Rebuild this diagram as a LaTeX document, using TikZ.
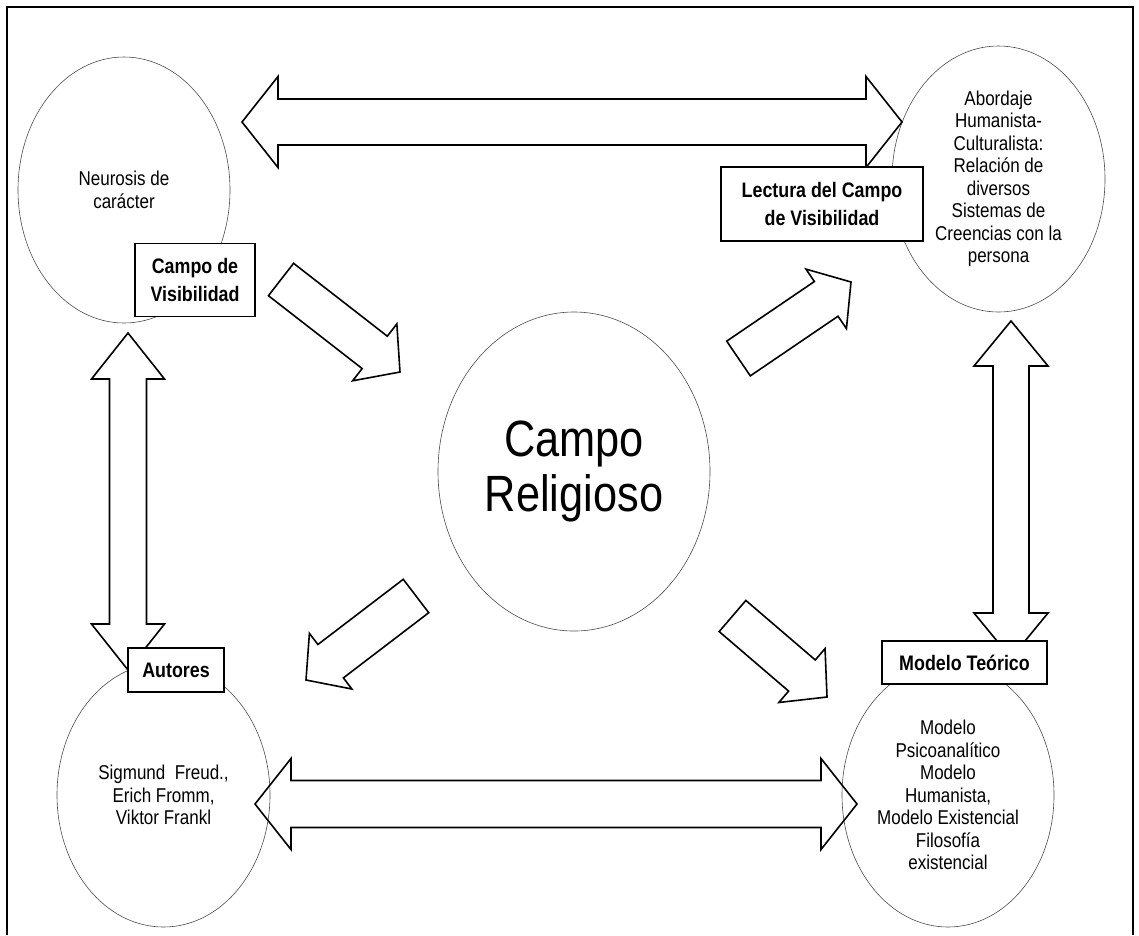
\documentclass[tikz,border=0pt]{standalone}
\usepackage{fontspec}
\setmainfont[FakeStretch=0.85]{Liberation Sans}
\usetikzlibrary{calc, shapes.geometric}

\begin{document}
\begin{tikzpicture}[x=1pt, y=-1pt,
    bubble/.style={draw=black!70, line width=0.6pt, ellipse, inner sep=0pt,
        minimum width=212pt, minimum height=266pt, align=center,
        font=\fontsize{20}{22.5}\selectfont},
    labelbox/.style={draw, line width=1.4pt, fill=white, align=center, inner sep=0pt,
        font=\bfseries\fontsize{21}{28}\selectfont},
    onearrow/.style n args={3}{line width=1.6pt, to path={
        ($(\tikztostart)!#1!90:(\tikztotarget)$)
        -- ($($(\tikztotarget)!#3!(\tikztostart)$)!#1!90:(\tikztotarget)$)
        -- ($($(\tikztotarget)!#3!(\tikztostart)$)!#2!90:(\tikztotarget)$)
        -- (\tikztotarget)
        -- ($($(\tikztotarget)!#3!(\tikztostart)$)!#2!-90:(\tikztotarget)$)
        -- ($($(\tikztotarget)!#3!(\tikztostart)$)!#1!-90:(\tikztotarget)$)
        -- ($(\tikztostart)!#1!-90:(\tikztotarget)$)
        -- cycle}},
    twoarrow/.style n args={3}{line width=1.6pt, to path={
        (\tikztostart)
        -- ($($(\tikztostart)!#3!(\tikztotarget)$)!#2!90:(\tikztotarget)$)
        -- ($($(\tikztostart)!#3!(\tikztotarget)$)!#1!90:(\tikztotarget)$)
        -- ($($(\tikztotarget)!#3!(\tikztostart)$)!#1!90:(\tikztotarget)$)
        -- ($($(\tikztotarget)!#3!(\tikztostart)$)!#2!90:(\tikztotarget)$)
        -- (\tikztotarget)
        -- ($($(\tikztotarget)!#3!(\tikztostart)$)!#2!-90:(\tikztotarget)$)
        -- ($($(\tikztotarget)!#3!(\tikztostart)$)!#1!-90:(\tikztotarget)$)
        -- ($($(\tikztostart)!#3!(\tikztotarget)$)!#1!-90:(\tikztotarget)$)
        -- ($($(\tikztostart)!#3!(\tikztotarget)$)!#2!-90:(\tikztotarget)$)
        -- cycle}}]
    \useasboundingbox (0,0) rectangle (1139,935);

    % Frame
    \draw[line width=1.6pt] (7,935) -- (7,7) -- (1133,7) -- (1133,935);

    % Circles
    \node[bubble] (neurosis) at (124,190) {Neurosis de\\carácter};
    \node[bubble, minimum width=213pt] (abordaje) at (998.5,179)
        {Abordaje\\Humanista-\\Culturalista:\\Relación de\\diversos\\Sistemas de\\Creencias con la\\persona};
    \node[bubble, minimum width=213pt, minimum height=264pt] (autores) at (163.5,795)
        {Sigmund~~Freud.,\\Erich Fromm,\\Viktor Frankl};
    \node[bubble, minimum height=264pt] (modelos) at (948,795)
        {Modelo\\Psicoanalítico\\Modelo\\Humanista,\\Modelo Existencial\\Filosofía\\existencial};
    \node[bubble, minimum width=272pt, minimum height=319pt,
        font=\fontsize{51}{55}\selectfont] (religioso) at (574,471.5) {Campo\\Religioso};

    % Arrow ends
    \coordinate (topL) at (242,122);   \coordinate (topR) at (902,122);
    \coordinate (botL) at (255,804);   \coordinate (botR) at (857,804);
    \coordinate (leftU) at (128,333);  \coordinate (leftD) at (128,670);
    \coordinate (rightU) at (1011,321); \coordinate (rightD) at (1011,658);
    \coordinate (inA) at (281,279.5);  \coordinate (inB) at (400,372);
    \coordinate (upA) at (738.5,358.5); \coordinate (upB) at (851,282);
    \coordinate (dlA) at (416,596);    \coordinate (dlB) at (306,680);
    \coordinate (drA) at (732.5,616);  \coordinate (drB) at (827,697);

    % Double arrows
    \draw[twoarrow={23pt}{45.5pt}{36pt}] (topL) to (topR);
    \draw[twoarrow={23.5pt}{45.5pt}{36pt}] (botL) to (botR);
    \draw[twoarrow={18.5pt}{36.5pt}{46pt}] (leftU) to (leftD);
    \draw[twoarrow={18pt}{37pt}{45pt}] (rightU) to (rightD);

    % Single arrows
    \draw[onearrow={20.5pt}{36pt}{32pt}] (inA) to (inB);
    \draw[onearrow={21pt}{36pt}{30pt}] (upA) to (upB);
    \draw[onearrow={21pt}{35pt}{31pt}] (dlA) to (dlB);
    \draw[onearrow={20.5pt}{35.5pt}{33pt}] (drA) to (drB);

    % Labels
    \node[labelbox, minimum width=120pt, minimum height=73pt] (visib) at (195,280)
        {Campo de\\Visibilidad};
    \node[labelbox, minimum width=202pt, minimum height=74pt] (lectura) at (822,204)
        {Lectura del Campo\\de Visibilidad};
    \node[labelbox, minimum width=96pt, minimum height=44pt] (autlab) at (176,670) {Autores};
    \node[labelbox, minimum width=165pt, minimum height=43pt] (modlab) at (964.5,662.5)
        {Modelo Teórico};
\end{tikzpicture}
\end{document}
